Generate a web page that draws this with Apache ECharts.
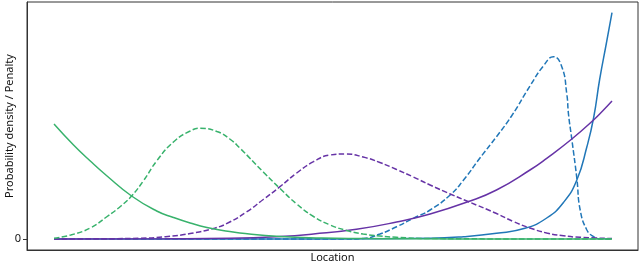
<!DOCTYPE html>
<html>
<head>
<meta charset="utf-8">
<script src="https://cdn.jsdelivr.net/npm/echarts@6/dist/echarts.min.js"></script>
<style>
html,body{margin:0;padding:0;background:#fff;}
#chart{width:640px;height:263px;}
</style>
</head>
<body>
<div id="chart"></div>
<script>
// Location (x) and value (y) readings per curve
const greenSolidX = [0, 0.35, 0.65, 0.94, 1.39, 1.84, 2.14, 2.44, 2.74, 3.15, 3.33, 4.05, 4.8, 5.5, 6.5, 8, 10];
const greenSolidY = [115, 94, 78, 63.5, 43, 28, 21.5, 16, 11.5, 7.5, 6, 2.5, 1, 0.5, 0.2, 0.05, 0];

const greenDashX = [0, 0.3, 0.65, 0.94, 1.2, 1.39, 1.6, 1.84, 2.14, 2.44, 2.62, 2.92, 3.15, 3.33, 3.75, 4.05, 4.35, 4.65, 4.95, 5.25, 5.54, 5.84, 6.14, 6.74, 8, 10];
const greenDashY = [0.7, 4, 11, 22, 33, 43, 58, 78, 97, 108, 110.7, 107.5, 100, 91, 67, 50.5, 35, 22.5, 14, 8.5, 5, 3, 1.7, 0.5, 0.1, 0];

const purpleDashX = [0, 1.0, 1.54, 2.0, 2.44, 2.89, 3.15, 3.45, 3.75, 4.05, 4.35, 4.65, 4.95, 5.22, 5.54, 5.84, 6.14, 6.44, 6.74, 7.10, 7.42, 7.93, 8.23, 8.53, 8.83, 9.13, 9.43, 10];
const purpleDashY = [0, 0.3, 0.7, 2.3, 5.5, 11, 17, 27, 39.5, 52.3, 66, 77.3, 84, 85, 82, 76.5, 69.5, 62, 54, 45, 37.5, 25.5, 17.5, 11, 6, 3.2, 1.7, 0.5];

const purpleSolidX = [0, 2, 3.15, 4.05, 4.65, 5.42, 6.14, 6.74, 7.42, 7.93, 8.53, 8.83, 9.28, 9.67, 9.84, 10];
const purpleSolidY = [0, 0.3, 0.8, 2.5, 5, 9.7, 17, 25, 37.3, 49, 69, 80.7, 100, 119, 128.5, 138];

const blueSolidX = [0, 5, 6.74, 7.34, 7.93, 8.44, 8.83, 9.13, 9.37, 9.55, 9.67, 9.78, 9.90, 10];
const blueSolidY = [0, 0.1, 0.7, 2.3, 5.7, 10.7, 21, 36.5, 59, 92.3, 121, 160, 196, 226.3];

const blueDashX = [0, 5.2, 5.54, 5.84, 6.14, 6.44, 6.74, 7.10, 7.34, 7.63, 7.93, 8.20, 8.53, 8.77, 8.95, 9.10, 9.19, 9.22, 9.28, 9.37, 9.43, 9.55, 9.67, 9.78, 10];
const blueDashY = [0, 0, 0.5, 5, 12.3, 20.7, 29, 44, 59, 80.7, 102.3, 123, 153, 173, 182.3, 172.3, 145, 125, 99.7, 60.7, 29, 9, 2.3, 0.3, 0];

const yTickValues = [0];

const BLUE = '#2177b8', PURPLE = '#6633a6', GREEN = '#38b26c';
const DASH = [5.5, 2.4];

function pairs(xs, ys) { return xs.map((x, i) => [x, ys[i]]); }
function line(name, xs, ys, color, dashed) {
  return {
    name, type: 'line', data: pairs(xs, ys),
    smooth: 0.5, showSymbol: false, symbol: 'none',
    lineStyle: { color, width: 1.5, type: dashed ? DASH : 'solid', cap: 'butt' },
    emphasis: { disabled: true }, animation: false
  };
}

const chart = echarts.init(document.getElementById('chart'), null, { renderer: 'canvas' });
chart.setOption({
  animation: false,
  backgroundColor: '#fff',
  grid: { left: 27, right: 2, top: 2, bottom: 13, containLabel: false, outerBoundsMode: 'none',
          show: true, borderColor: '#333', borderWidth: 1, backgroundColor: 'transparent' },
  xAxis: {
    type: 'value', min: -0.484, max: 10.466,
    name: 'Location', nameLocation: 'middle', nameGap: 2, nameMoveOverlap: false,
    nameTextStyle: { fontFamily: 'Noto Sans', fontSize: 11, color: '#111', verticalAlign: 'top' },
    axisLine: { show: true, onZero: false, lineStyle: { color: '#333', width: 1 } },
    axisTick: { show: false }, axisLabel: { show: false }, splitLine: { show: false }
  },
  yAxis: {
    type: 'value', min: -11, max: 237,
    name: 'Probability density / Penalty', nameLocation: 'middle', nameGap: 12, nameMoveOverlap: false,
    nameTextStyle: { fontFamily: 'Noto Sans', fontSize: 11, color: '#111' },
    axisLine: { show: true, onZero: false, lineStyle: { color: '#333', width: 1 } },
    axisTick: { show: true, length: 4, customValues: yTickValues, lineStyle: { color: '#333' } },
    axisLabel: { show: true, customValues: yTickValues, margin: 6, fontFamily: 'Noto Sans', fontSize: 11, color: '#111' },
    splitLine: { show: false }
  },
  series: [
    line('blueDash', blueDashX, blueDashY, BLUE, true),
    line('blueSolid', blueSolidX, blueSolidY, BLUE, false),
    line('purpleDash', purpleDashX, purpleDashY, PURPLE, true),
    line('purpleSolid', purpleSolidX, purpleSolidY, PURPLE, false),
    line('greenDash', greenDashX, greenDashY, GREEN, true),
    line('greenSolid', greenSolidX, greenSolidY, GREEN, false)
  ]
});
</script>
</body>
</html>
